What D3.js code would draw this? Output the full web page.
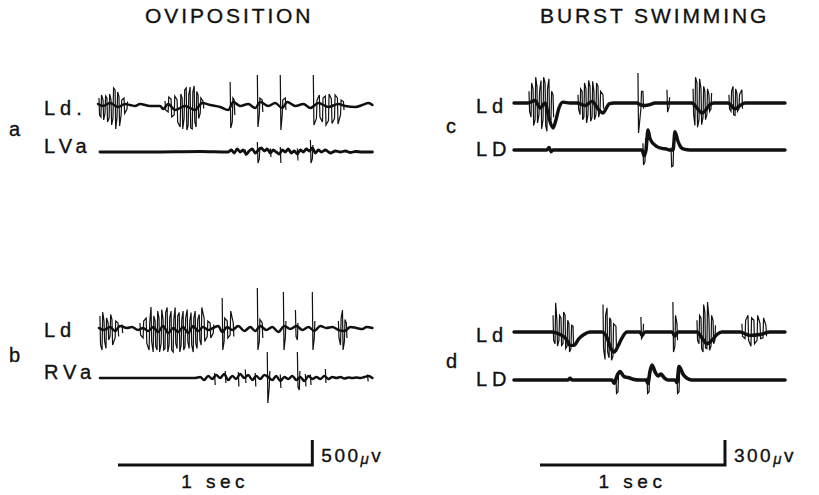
<!DOCTYPE html>
<html><head><meta charset="utf-8">
<script src="https://cdn.jsdelivr.net/npm/d3@7"></script>
<style>
html,body{margin:0;padding:0;background:#fff;}
svg{display:block;}
text{font-family:"Liberation Sans",Arial,Helvetica,sans-serif;fill:#111;stroke:#111;stroke-width:0.35;}
</style></head><body>
<svg id="chart" width="819" height="495"></svg>
<script>
// ---------- DATA (time in ms from start of sweep, voltage in µV) ----------
const titles = ["OVIPOSITION", "BURST SWIMMING"];
const panelLetters = ["a", "b", "c", "d"];
const traceNames = ["Ld.", "LVa", "Ld", "RVa", "Ld", "LD", "Ld", "LD"];
const scaleTimes = [1000, 1000];          // ms
const scaleVolts = [500, 300];            // µV
const scaleVoltLabels = ["500", "300"];
const scaleTimeLabels = ["1 sec", "1 sec"];
const sweepDur = [1410, 1465];            // ms, left / right column

// Panel a — Ld (slow wave vertices, spikes [t, top, bottom])
const aLdBase = [[0,20],[26,-20],[62,40],[103,-40],[139,20],[165,0],[191,-20],[216,20],[268,-20],[320,-20],[335,-80],[361,20],[397,-100],[448,-20],[500,-100],[536,40],[577,0],[629,-40],[670,-100],[696,60],[732,-20],[773,20],[809,-60],[835,60],[876,-20],[912,40],[948,-60],[974,60],[1016,-20],[1057,20],[1093,-60],[1134,40],[1186,-40],[1237,20],[1273,-20],[1325,-40],[1361,0],[1392,40],[1412,0]];
const aLdSpikes = [[5,140,-200],[15,200,-240],[26,100,-300],[36,180,-170],[46,140,-340],[57,220,-260],[67,100,-400],[77,340,-270],[88,300,-480],[98,260,-240],[108,170,-420],[119,100,-200],[134,140,-170],[149,70,-80],
[345,80,-100],[361,160,-140],[376,120,-240],[392,180,-200],[407,100,-340],[423,220,-440],[433,140,-480],[443,300,-270],[454,340,-500],[464,200,-410],[474,360,-460],[485,260,-480],[495,380,-340],[505,270,-440],[515,200,-270],[526,140,-170],[541,70,-70],
[680,460,-460],[691,140,-340],[701,100,-200],
[820,600,-440],[830,140,-200],[845,100,-140],
[938,600,-500],[948,100,-200],[964,140,-100],
[1108,600,-400],[1124,100,-270],[1139,200,-240],[1155,140,-340],[1170,180,-400],[1186,220,-310],[1201,120,-370],[1217,200,-270],[1232,140,-380],[1248,100,-200],[1263,70,-100]];
// Panel a — LVa
const aLVaBase = [[10,0],[268,0],[526,10],[670,0],[686,40],[701,-20],[716,60],[732,0],[747,40],[763,-40],[778,20],[794,60],[809,-20],[825,40],[840,80],[856,20],[871,60],[887,-20],[902,40],[917,0],[933,-40],[948,40],[964,0],[979,60],[995,-20],[1010,20],[1026,-40],[1041,40],[1057,0],[1072,60],[1088,20],[1103,80],[1119,-20],[1134,40],[1150,0],[1170,40],[1196,-20],[1222,20],[1248,0],[1273,20],[1299,-10],[1325,10],[1361,0],[1412,0]];
const aLVaSpikes = [[758,50,-80],[820,200,-220],[830,100,-140],[887,70,-100],[938,100,-220],[1026,70,-170],[1093,240,-220],[1103,140,-140]];

// Panel b — Ld
const bLdBase = [[5,0],[31,-40],[62,20],[88,-60],[113,40],[149,0],[175,20],[206,-40],[232,0],[258,-60],[284,20],[309,-80],[335,40],[361,-100],[387,0],[412,-80],[438,20],[464,-100],[490,40],[515,-60],[541,20],[567,-40],[593,0],[619,40],[639,-80],[665,20],[691,-40],[722,40],[753,-60],[784,20],[809,-60],[835,40],[866,-40],[897,20],[928,-80],[959,40],[990,-20],[1021,40],[1052,-40],[1083,20],[1113,-60],[1144,40],[1175,0],[1206,20],[1237,-40],[1268,-60],[1299,20],[1330,0],[1361,-20],[1382,20],[1412,0]];
const bLdSpikes = [[10,240,-340],[21,320,-440],[31,140,-270],[41,200,-410],[52,100,-240],[62,270,-170],[72,170,-340],[88,140,-200],[103,100,-170],[124,70,-100],
[216,100,-140],[232,140,-200],[248,200,-310],[263,100,-440],[273,420,-270],[284,240,-480],[294,140,-370],[304,340,-440],[314,200,-480],[325,370,-310],[335,170,-440],[345,310,-410],[356,410,-480],[366,200,-340],[376,340,-440],[387,170,-480],[397,410,-310],[407,240,-410],[418,310,-480],[428,170,-340],[438,340,-440],[448,200,-370],[459,370,-270],[469,140,-410],[479,310,-340],[490,200,-480],[500,340,-310],[510,170,-410],[521,270,-240],[531,410,-340],[546,200,-270],[562,140,-170],[577,100,-200],[593,70,-100],
[639,600,-440],[649,200,-270],[665,140,-200],[680,340,-140],[696,100,-170],
[820,800,-440],[830,170,-270],[845,100,-200],
[954,720,-440],[964,140,-200],
[1016,360,-170],[1026,100,-240],
[1103,720,-440],[1113,140,-200],
[1237,140,-200],[1248,200,-340],[1258,360,-440],[1268,170,-270],[1278,100,-200]];
// Panel b — RVa
const bRVaBase = [[10,0],[268,0],[500,0],[526,20],[546,-40],[567,40],[588,-20],[608,60],[629,0],[649,80],[670,-40],[691,40],[711,-20],[732,80],[753,0],[773,60],[794,-40],[814,40],[835,-20],[856,60],[876,20],[897,-40],[917,40],[938,-60],[959,20],[979,-20],[1000,40],[1021,-40],[1041,20],[1062,-60],[1083,40],[1103,-20],[1124,20],[1144,-20],[1165,40],[1186,-20],[1206,20],[1227,0],[1248,20],[1268,-10],[1289,10],[1309,0],[1330,10],[1351,0],[1371,20],[1392,40],[1412,0]];
const bRVaSpikes = [[600,100,-140],[655,140,-100],[722,120,-170],[758,170,-100],[809,100,-170],[871,520,-500],[881,140,-200],[938,70,-200],[1026,520,-180],[1036,140,-240],[1067,80,-170],[1093,70,-140],[1170,180,-100],[1387,70,-70]];

// Panel c — Ld
const cLdBase = [[0,0],[76,0],[114,30],[141,-60],[168,0],[189,-180],[211,-300],[227,-200],[243,-60],[265,10],[303,0],[341,0],[384,-30],[422,20],[454,-70],[481,-120],[497,-70],[514,-10],[541,0],[665,0],[681,-20],[708,-30],[735,-20],[762,0],[962,0],[989,-60],[1016,-120],[1038,-80],[1059,-20],[1081,0],[1157,0],[1195,-70],[1222,-30],[1249,0],[1465,0]];
const cLdSpikes = [[81,140,-100],[92,240,-170],[103,170,-270],[114,310,-200],[124,200,-240],[135,140,-140],[146,270,-310],[157,310,-200],[168,240,-270],[178,170,-340],[189,290,-240],[200,140,-200],[211,100,-170],
[346,100,-70],[357,170,-140],[368,140,-200],[378,240,-170],[389,170,-240],[400,270,-140],[411,200,-220],[422,260,-170],[432,140,-200],[443,240,-140],[454,200,-170],[465,140,-100],[481,100,-70],
[670,360,-360],[686,140,-70],[697,140,-70],
[827,160,-110],[838,70,-50],
[968,170,-140],[978,310,-270],[989,240,-290],[1000,290,-200],[1011,170,-260],[1022,200,-170],[1032,140,-200],[1043,170,-140],[1054,100,-100],[1065,120,-70],
[1162,100,-70],[1173,140,-100],[1184,200,-140],[1195,170,-150],[1205,120,-100],[1216,100,-70],[1232,160,-70]];
// Panel c — LD
const cLDBase = [[0,0],[178,0],[189,30],[200,-20],[211,0],[692,0],[703,-70],[714,0],[724,240],[735,140],[751,80],[773,40],[800,20],[827,10],[843,0],[860,0],[870,220],[887,100],[903,30],[919,10],[951,0],[1465,0]];
const cLDSpikes = [[195,40,-40],[697,80,-180],[708,140,-140],[849,30,-200],[860,70,-190]];

// Panel d — Ld
const dLdBase = [[0,0],[205,0],[249,-30],[281,-80],[303,-160],[324,-160],[351,-80],[378,-30],[411,0],[476,0],[503,-70],[524,-200],[541,-240],[562,-170],[584,-70],[611,0],[681,0],[692,-40],[708,0],[854,0],[870,-50],[887,0],[989,0],[1016,-70],[1043,-140],[1070,-100],[1097,-30],[1124,0],[1222,0],[1276,-40],[1330,-30],[1384,0],[1465,0]];
const dLdSpikes = [[211,200,-100],[222,350,-140],[232,140,-170],[243,200,-100],[254,170,-160],[265,240,-140],[276,200,-200],[287,140,-170],[297,100,-240],[308,80,-200],[319,70,-170],
[481,330,-200],[492,200,-330],[503,290,-240],[514,170,-310],[524,140,-340],[535,100,-290],[551,70,-240],
[686,180,-80],[697,100,-50],
[859,360,-240],[870,200,-170],[881,100,-100],
[989,140,-100],[1000,200,-140],[1011,170,-200],[1022,330,-240],[1032,240,-190],[1043,360,-200],[1054,170,-220],[1065,200,-170],[1076,140,-140],[1086,80,-100],
[1232,100,-50],[1249,140,-80],[1265,200,-100],[1281,170,-170],[1297,140,-140],[1314,200,-100],[1330,100,-80],[1346,170,-70],[1362,80,-50]];
// Panel d — LD
const dLDBase = [[0,0],[292,0],[303,20],[314,0],[530,0],[541,-40],[557,50],[573,100],[595,40],[616,30],[643,10],[681,0],[714,0],[724,-40],[735,100],[746,180],[762,100],[778,50],[795,70],[811,30],[832,0],[870,0],[881,-30],[892,160],[914,70],[935,20],[962,0],[1465,0]];
const dLDSpikes = [[551,30,-160],[562,70,-140],[719,30,-160],[730,70,-140],[881,50,-160],[892,100,-140]];

// ---------- LAYOUT ----------
const svg = d3.select("#chart");
const ink = "#111";
const cols = [
  {x0: 98,  x1: 372, titleX: 145, barX: 118, letterX: 9,   nameX: 44},
  {x0: 514, x1: 785, titleX: 540, barX: 540, letterX: 446, nameX: 476}
];
const xScales = cols.map((c, i) => d3.scaleLinear().domain([0, sweepDur[i]]).range([c.x0, c.x1]));
// y scale: the scale-bar voltage spans 25 px
function yScale(col, base) {
  const v = scaleVolts[col];
  return d3.scaleLinear().domain([-v, v]).range([base + 25, base - 25]);
}

const traces = [
  {col:0, base:105, name:0, nameY:115, data:aLdBase, spikes:aLdSpikes, w:2.5},
  {col:0, base:152, name:1, nameY:153, data:aLVaBase, spikes:aLVaSpikes, w:2.8},
  {col:0, base:328, name:2, nameY:337, data:bLdBase, spikes:bLdSpikes, w:2.5},
  {col:0, base:378, name:3, nameY:379, data:bRVaBase, spikes:bRVaSpikes, w:2.5},
  {col:1, base:103, name:4, nameY:113, data:cLdBase, spikes:cLdSpikes, w:3.4},
  {col:1, base:150, name:5, nameY:156, data:cLDBase, spikes:cLDSpikes, w:3.4},
  {col:1, base:332, name:6, nameY:342, data:dLdBase, spikes:dLdSpikes, w:3.4},
  {col:1, base:380, name:7, nameY:386, data:dLDBase, spikes:dLDSpikes, w:3.6}
];
const letterPos = [{col:0,y:136},{col:0,y:362},{col:1,y:133},{col:1,y:368}];

// titles
titles.forEach((t, i) => {
  svg.append("text").attr("x", cols[i].titleX).attr("y", 23)
    .attr("font-size", 21).attr("letter-spacing", 2.9).text(t);
});

// panel letters
panelLetters.forEach((l, i) => {
  svg.append("text").attr("x", cols[letterPos[i].col].letterX).attr("y", letterPos[i].y)
    .attr("font-size", 20).text(l);
});

// group spikes into bursts (consecutive spikes close in time) and draw each burst as a jagged path
function bursts(spikes) {
  const out = [];
  let cur = [];
  spikes.forEach((s, i) => {
    if (cur.length && s[0] - cur[cur.length - 1][0] > 17) { out.push(cur); cur = []; }
    cur.push(s);
  });
  if (cur.length) out.push(cur);
  return out;
}

traces.forEach(tr => {
  const x = xScales[tr.col];
  const y = yScale(tr.col, tr.base);
  svg.append("text").attr("x", cols[tr.col].nameX).attr("y", tr.nameY)
    .attr("font-size", 20).attr("letter-spacing", 5).text(traceNames[tr.name]);
  const line = d3.line().x(d => x(d[0])).y(d => y(d[1])).curve(d3.curveMonotoneX);
  svg.append("path").datum(tr.data).attr("d", line)
    .attr("fill", "none").attr("stroke", ink).attr("stroke-width", tr.w)
    .attr("stroke-linejoin", "round").attr("stroke-linecap", "round");
  const g = svg.append("g");
  bursts(tr.spikes).forEach(b => {
    let d = "";
    b.forEach((s, i) => {
      const xs = x(s[0]);
      const a = i % 2 === 0 ? [s[1], s[2]] : [s[2], s[1]];
      d += (i === 0 ? "M" : "L") + xs + "," + y(a[0]) + "L" + (xs + 0.6) + "," + y(a[1]);
    });
    g.append("path").attr("d", d).attr("fill", "none").attr("stroke", ink)
      .attr("stroke-width", 1.2).attr("stroke-linejoin", "miter");
  });
});

// scale bars
cols.forEach((c, i) => {
  const x = xScales[i];
  const y = yScale(i, 465);
  const len = x(scaleTimes[i]) - x(0);
  const xs = c.barX, xe = c.barX + len;
  const yTop = y(scaleVolts[i]);
  svg.append("path")
    .attr("d", `M${xs},${y(0)}H${xe}V${yTop}`)
    .attr("fill", "none").attr("stroke", ink).attr("stroke-width", 3);
  const vt = svg.append("text").attr("x", xe + 9).attr("y", 462)
    .attr("font-size", 19).attr("letter-spacing", 2.5);
  vt.append("tspan").text(scaleVoltLabels[i]);
  vt.append("tspan").attr("font-size", 15).attr("font-style", "italic").attr("dy", 2).text("\u03BC");
  vt.append("tspan").attr("dy", -2).text("v");
  svg.append("text").attr("x", (xs + xe) / 2).attr("y", 488)
    .attr("text-anchor", "middle").attr("font-size", 19).attr("letter-spacing", 4.5)
    .text(scaleTimeLabels[i]);
});
</script>
</body></html>
